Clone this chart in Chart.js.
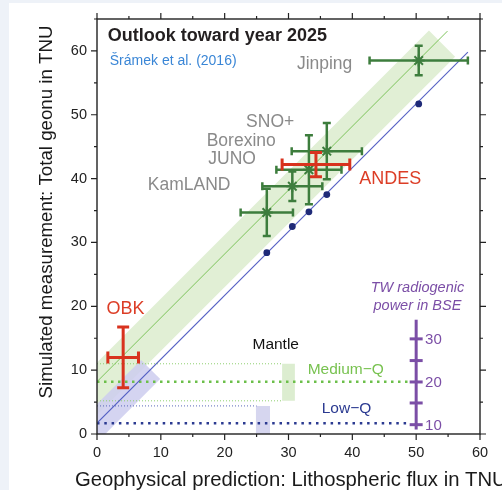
<!DOCTYPE html>
<html>
<head>
<meta charset="utf-8">
<script src="https://cdn.jsdelivr.net/npm/chart.js@4.4.0/dist/chart.umd.min.js"></script>
<style>
  html, body { margin: 0; padding: 0; background: #eef2f8; }
  #wrap { position: relative; width: 502px; height: 490px; overflow: hidden; }
  #panel { position: absolute; left: 9px; top: 3px; right: 0; bottom: 0; background: #fff; }
  canvas { position: absolute; left: 0; top: 0; }
</style>
</head>
<body>
<div id="wrap"><div id="panel"></div><canvas id="geonuChart" width="502" height="490"></canvas></div>
<script>
// experiments (green) and their simulated measurements
var expNames = ['KamLAND', 'Borexino', 'JUNO', 'SNO+', 'Jinping'];
var expX = [26.6, 30.6, 33.2, 36.0, 50.4];
var expY = [34.7, 38.8, 41.4, 44.3, 58.5];
var expXErr = [4.1, 4.7, 5.1, 5.5, 7.7];
var expYErr = [3.7, 2.3, 5.4, 4.4, 2.3];
// lithospheric flux alone + low-Q mantle (blue dots)
var litY = [28.4, 32.5, 34.8, 37.5, 51.7];

// proposed detectors (red)
var newNames = ['ANDES', 'OBK'];
var newX = [34.3, 4.1];
var newY = [42.2, 12.0];
var newXErr = [5.3, 2.4];
var newYErr = [1.9, 4.75];

// mantle signals
var medQ = 8.2, medQLow = 5.2, medQHigh = 11.0;
var lowQ = 1.7, lowQHigh = 4.4;

// model lines and bands
var greenLineX = [0, 54.9], greenLineY = [8.2, 63.1];
var blueLineX = [0, 58.1], blueLineY = [1.7, 59.8];
var greenBandX = [-8.0, 52.0, 56.1, -3.9, -8.0];
var greenBandY = [3.2, 63.2, 59.1, -0.9, 3.2];
var blueBandX = [-4.5, 6.9, 9.9, -1.5, -4.5];
var blueBandY = [0.2, 11.6, 8.6, -2.8, 0.2];
var greenBoxX = [29.0, 31.0, 31.0, 29.0, 29.0];
var greenBoxY = [5.2, 5.2, 11.0, 11.0, 5.2];
var blueBoxX = [24.9, 27.1, 27.1, 24.9, 24.9];
var blueBoxY = [0, 0, 4.4, 4.4, 0];

// TW radiogenic power scale
var twLabels = [10, 15, 20, 25, 30];
var twTnu = [1.46, 4.86, 8.15, 11.5, 14.9];
var twAxisX = 50, twAxisY = [0.7, 17.9];

var xTicks = [0, 10, 20, 30, 40, 50, 60];
var yTicks = [0, 10, 20, 30, 40, 50, 60];

function pts(xs, ys) {
    return xs.map(function (x, i) { return {x: x, y: ys[i]}; });
}

var FONT = '"Liberation Sans", Arial, Helvetica, sans-serif';
var purple = '#7b4ea6';

var notes = [
    {t: 'Outlook toward year 2025', x: 1.7, y: 62.3, a: 'left', c: '#231f20', f: 'bold 18px'},
    {t: 'Šrámek et al. (2016)', x: 2.0, y: 58.4, a: 'left', c: '#3a86d6', f: '14px'},
    {t: 'Jinping', x: 40.0, y: 57.9, a: 'right', c: '#8a8a8a', f: '17.5px'},
    {t: 'SNO+', x: 30.9, y: 48.8, a: 'right', c: '#8a8a8a', f: '17.5px'},
    {t: 'Borexino', x: 28.0, y: 45.9, a: 'right', c: '#8a8a8a', f: '17.5px'},
    {t: 'JUNO', x: 24.9, y: 43.0, a: 'right', c: '#8a8a8a', f: '17.5px'},
    {t: 'KamLAND', x: 20.9, y: 38.9, a: 'right', c: '#8a8a8a', f: '17.5px'},
    {t: 'ANDES', x: 41.1, y: 39.9, a: 'left', c: '#dc3d26', f: '18px'},
    {t: 'OBK', x: 1.5, y: 19.5, a: 'left', c: '#dc3d26', f: '18px'},
    {t: 'Mantle', x: 28.0, y: 14.0, a: 'center', c: '#111', f: '15.5px'},
    {t: 'Medium\u2212Q', x: 33.0, y: 10.1, a: 'left', c: '#78c250', f: '15.5px'},
    {t: 'Low\u2212Q', x: 35.2, y: 4.0, a: 'left', c: '#2b3a91', f: '15.5px'},
    {t: 'TW radiogenic', x: 50.2, y: 22.9, a: 'center', c: purple, f: 'italic 14.5px'},
    {t: 'power in BSE', x: 50.2, y: 20.0, a: 'center', c: purple, f: 'italic 14.5px'}
];

var errorBars = {
    id: 'errorBars',
    afterDatasetsDraw: function (chart) {
        var ctx = chart.ctx, xs = chart.scales.x, ys = chart.scales.y;
        function bars(X, Y, XE, YE, color, w, cap) {
            ctx.save();
            ctx.strokeStyle = color;
            ctx.lineWidth = w;
            for (var i = 0; i < X.length; i++) {
                var cx = xs.getPixelForValue(X[i]), cy = ys.getPixelForValue(Y[i]);
                var x0 = xs.getPixelForValue(X[i] - XE[i]), x1 = xs.getPixelForValue(X[i] + XE[i]);
                var y0 = ys.getPixelForValue(Y[i] - YE[i]), y1 = ys.getPixelForValue(Y[i] + YE[i]);
                ctx.beginPath();
                ctx.moveTo(x0, cy); ctx.lineTo(x1, cy);
                ctx.moveTo(cx, y0); ctx.lineTo(cx, y1);
                ctx.moveTo(x0, cy - cap); ctx.lineTo(x0, cy + cap);
                ctx.moveTo(x1, cy - cap); ctx.lineTo(x1, cy + cap);
                ctx.moveTo(cx - cap, y0); ctx.lineTo(cx + cap, y0);
                ctx.moveTo(cx - cap, y1); ctx.lineTo(cx + cap, y1);
                ctx.stroke();
            }
            ctx.restore();
        }
        bars(expX, expY, expXErr, expYErr, '#3d7d3d', 2.5, 4);
        bars(newX, newY, newXErr, newYErr, '#d8321e', 3, 6);
    }
};

var frameAndText = {
    id: 'frameAndText',
    afterDraw: function (chart) {
        var ctx = chart.ctx, a = chart.chartArea, xs = chart.scales.x, ys = chart.scales.y;
        ctx.save();
        // frame
        ctx.strokeStyle = '#222';
        ctx.lineWidth = 1.4;
        ctx.strokeRect(a.left, a.top, a.right - a.left, a.bottom - a.top);
        // ticks on all four sides
        ctx.lineWidth = 1.2;
        ctx.beginPath();
        for (var v = 0; v <= 60; v += 5) {
            var len = v % 10 === 0 ? 6 : 3;
            var px = xs.getPixelForValue(v);
            ctx.moveTo(px, a.bottom); ctx.lineTo(px, a.bottom + len);
            ctx.moveTo(px, a.top); ctx.lineTo(px, a.top - len);
        }
        for (var w = 0; w <= 65; w += 5) {
            var len2 = w % 10 === 0 ? 6 : 3;
            var py = ys.getPixelForValue(w);
            ctx.moveTo(a.left, py); ctx.lineTo(a.left - len2, py);
            ctx.moveTo(a.right, py); ctx.lineTo(a.right + len2, py);
        }
        ctx.stroke();

        // annotations
        ctx.textBaseline = 'middle';
        notes.forEach(function (n) {
            ctx.font = n.f + ' ' + FONT;
            ctx.fillStyle = n.c;
            ctx.textAlign = n.a;
            ctx.fillText(n.t, xs.getPixelForValue(n.x), ys.getPixelForValue(n.y));
        });
        // TW scale labels
        ctx.font = '15px ' + FONT;
        ctx.fillStyle = purple;
        ctx.textAlign = 'left';
        twLabels.forEach(function (l, i) {
            if (l % 10 === 0) ctx.fillText(String(l), xs.getPixelForValue(twAxisX + 1.4), ys.getPixelForValue(twTnu[i]) + 1);
        });

        // axis titles
        ctx.fillStyle = '#1a1a1a';
        ctx.font = '20.3px ' + FONT;
        ctx.textAlign = 'left';
        ctx.fillText('Geophysical prediction: Lithospheric flux in TNU', 75, a.bottom + 46);
        ctx.save();
        ctx.translate(47, 212);
        ctx.rotate(-Math.PI / 2);
        ctx.textAlign = 'center';
        ctx.font = '18.7px ' + FONT;
        ctx.fillText('Simulated measurement: Total geonu in TNU', 0, 0);
        ctx.restore();
        ctx.restore();
    }
};

function poly(xs, ys, color, order) {
    return {data: pts(xs, ys), showLine: true, fill: 'shape', backgroundColor: color,
        borderWidth: 0, pointRadius: 0, order: order};
}
function line(xs, ys, color, width, dash, order) {
    return {data: pts(xs, ys), showLine: true, fill: false, borderColor: color,
        borderWidth: width, borderDash: dash || [], pointRadius: 0, order: order};
}

var chart = document.getElementById('geonuChart');
if (chart) {
    Chart.defaults.font.family = FONT;
    var ctx = chart.getContext('2d');
    var geonuChart = new Chart(ctx, {
        type: 'scatter',
        data: {
            datasets: [
                poly(greenBandX, greenBandY, '#e1efd5', 20),
                poly(blueBandX, blueBandY, 'rgba(205,205,238,0.85)', 19),
                poly(greenBoxX, greenBoxY, '#dcedd0', 18),
                poly(blueBoxX, blueBoxY, '#d6d6ef', 18),
                line([0, 29], [medQHigh, medQHigh], '#8fd070', 1, [1, 2], 15),
                line([0, 29], [medQLow, medQLow], '#8fd070', 1, [1, 2], 15),
                line([0, 25], [lowQHigh, lowQHigh], '#5a68b8', 1, [1, 2], 15),
                line([0, 49], [medQ, medQ], '#6cbf4a', 2.5, [2.5, 4.5], 14),
                line([0, 49], [lowQ, lowQ], '#2b3a91', 2.5, [2.5, 4.8], 14),
                line(greenLineX, greenLineY, '#7cc35a', 1, null, 12),
                line(blueLineX, blueLineY, '#5560c4', 1.1, null, 12),
                line([twAxisX, twAxisX], twAxisY, purple, 3, null, 10),
                {data: twTnu.map(function (v) { return {x: twAxisX, y: v}; }), pointStyle: 'line',
                    pointRadius: 6.5, borderColor: purple, borderWidth: 3, order: 9},
                {data: pts(expX, litY), pointRadius: 3.4, backgroundColor: '#1f2a78',
                    borderWidth: 0, order: 5},
                {data: pts(expX, expY), pointStyle: 'star', pointRadius: 6, borderColor: '#3d7d3d',
                    borderWidth: 2, order: 1}
            ]
        },
        options: {
            responsive: false,
            animation: false,
            events: [],
            layout: {padding: {top: 19, right: 22, left: 0, bottom: 0}},
            plugins: {legend: {display: false}, tooltip: {enabled: false}},
            scales: {
                x: {
                    type: 'linear', min: 0, max: 60,
                    grid: {display: false, drawTicks: false},
                    border: {display: false},
                    afterBuildTicks: function (s) { s.ticks = xTicks.map(function (v) { return {value: v}; }); },
                    afterFit: function (s) { s.height = 56; },
                    ticks: {padding: 10, color: '#222', font: {size: 14.5}}
                },
                y: {
                    type: 'linear', min: 0, max: 65,
                    grid: {display: false, drawTicks: false},
                    border: {display: false},
                    afterBuildTicks: function (s) { s.ticks = yTicks.map(function (v) { return {value: v}; }); },
                    afterFit: function (s) { s.width = 97; },
                    ticks: {padding: 10, color: '#222', font: {size: 14.5}}
                }
            }
        },
        plugins: [errorBars, frameAndText]
    });
}
</script>
</body>
</html>
